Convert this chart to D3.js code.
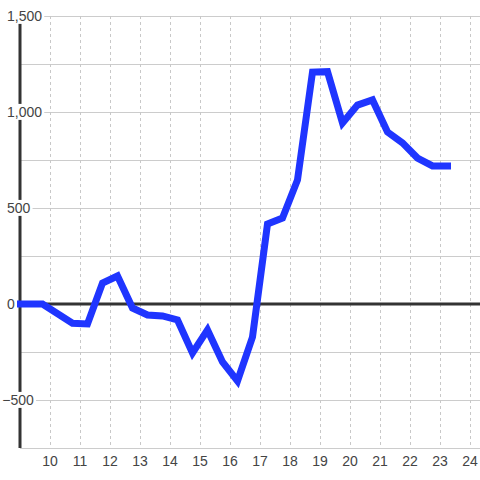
<!DOCTYPE html>
<html>
<head>
<meta charset="utf-8">
<script src="https://cdn.jsdelivr.net/npm/d3@7"></script>
<style>
  html, body { margin: 0; padding: 0; background: #fff; }
  svg { display: block; font-family: "Liberation Sans", Arial, sans-serif; }
</style>
</head>
<body>
<div id="chart"></div>
<script>
// Data (hour of day -> value)
const hours = [9, 9.75, 10.75, 11.25, 11.75, 12.25, 12.75, 13.25, 13.75, 14.25, 14.75, 15.25,
  15.75, 16.25, 16.75, 17.25, 17.75, 18.25, 18.75, 19.25, 19.75, 20.25, 20.75, 21.25,
  21.75, 22.25, 22.75, 23.25];
const values = [0, 0, -100, -104, 109, 146, -21, -57, -62, -83, -255, -135,
  -302, -401, -172, 417, 448, 646, 1208, 1210, 943, 1036, 1063, 896,
  839, 760, 719, 719];
const xTicks = [10, 11, 12, 13, 14, 15, 16, 17, 18, 19, 20, 21, 22, 23, 24];
const yGridTicks = [-750, -500, -250, 0, 250, 500, 750, 1000, 1250, 1500];
const yLabelTicks = [-500, 0, 500, 1000, 1500];

const width = 480, height = 480;
const margin = { top: 16, right: 0, bottom: 32, left: 20 };

const svg = d3.select('#chart').append('svg')
  .attr('width', width)
  .attr('height', height);

const x = d3.scaleLinear()
  .domain([9, 9 + (width - margin.left) / 30])
  .range([margin.left, width - margin.right]);

const y = d3.scaleLinear()
  .domain([-750, 1500])
  .range([height - margin.bottom, margin.top]);

// Horizontal grid lines
svg.append('g')
  .selectAll('line')
  .data(yGridTicks)
  .enter()
  .append('line')
  .attr('x1', margin.left)
  .attr('x2', width)
  .attr('y1', d => y(d))
  .attr('y2', d => y(d))
  .attr('stroke', '#cccccc')
  .attr('stroke-width', 1)
  .attr('shape-rendering', 'crispEdges');

// Vertical dashed grid lines
svg.append('g')
  .selectAll('line')
  .data(xTicks)
  .enter()
  .append('line')
  .attr('x1', d => Math.round(x(d)) + 0.5)
  .attr('x2', d => Math.round(x(d)) + 0.5)
  .attr('y1', y(1500))
  .attr('y2', y(-750))
  .attr('stroke', '#c8c8c8')
  .attr('stroke-width', 1)
  .attr('stroke-dasharray', '3,3');

// Zero line
svg.append('line')
  .attr('x1', margin.left)
  .attr('x2', width)
  .attr('y1', y(0))
  .attr('y2', y(0))
  .attr('stroke', '#333')
  .attr('stroke-width', 3);

// Left axis line
svg.append('line')
  .attr('x1', margin.left)
  .attr('x2', margin.left)
  .attr('y1', y(1500))
  .attr('y2', y(-750))
  .attr('stroke', '#333')
  .attr('stroke-width', 3);

// Series line
const line = d3.line()
  .x((d, i) => x(hours[i]))
  .y(d => y(d));

svg.append('path')
  .datum(values)
  .attr('fill', 'none')
  .attr('stroke', '#1f35ff')
  .attr('stroke-width', 7)
  .attr('stroke-linecap', 'square')
  .attr('stroke-linejoin', 'miter')
  .attr('d', line);

// Y labels with white background
const fmt = d3.format(',');
const yLab = svg.append('g');
yLabelTicks.forEach(v => {
  const g = yLab.append('g');
  const t = g.append('text')
    .attr('x', 7)
    .attr('dx', v < 0 ? -4.7 : 0)
    .attr('y', y(v))
    .attr('dy', '0.35em')
    .attr('font-size', 14)
    .attr('fill', '#444')
    .text(fmt(v));
  const b = t.node().getBBox();
  g.insert('rect', 'text')
    .attr('x', b.x - 1)
    .attr('y', b.y)
    .attr('width', b.width + 3)
    .attr('height', b.height)
    .attr('fill', '#fff');
});

// X labels
svg.append('g')
  .selectAll('text')
  .data(xTicks)
  .enter()
  .append('text')
  .attr('x', d => x(d))
  .attr('y', 466)
  .attr('text-anchor', 'middle')
  .attr('font-size', 14)
  .attr('fill', '#444')
  .text(d => d);
</script>
</body>
</html>
